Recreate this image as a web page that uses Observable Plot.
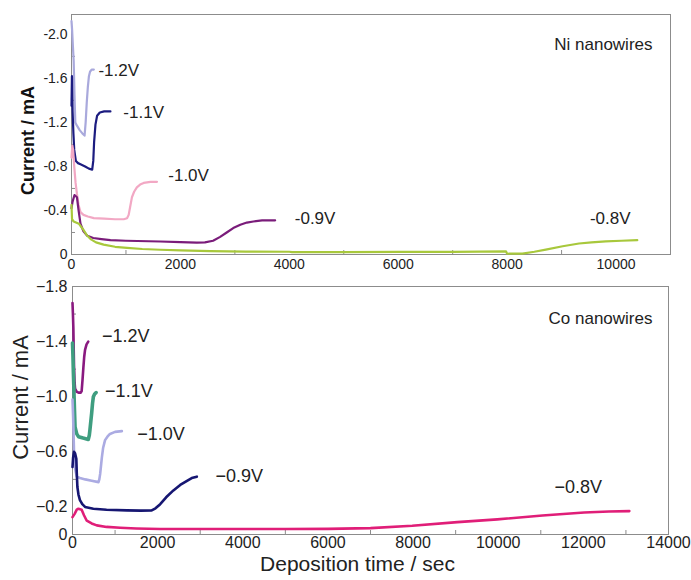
<!DOCTYPE html>
<html><head><meta charset="utf-8">
<script src="https://cdn.jsdelivr.net/npm/d3@7"></script>
<script src="https://cdn.jsdelivr.net/npm/@observablehq/plot@0.6"></script>
<style>body{margin:0;background:#fff}#chart svg{display:block}</style>
</head><body><div id="chart"></div>
<script>
// ---- Ni nanowires: [time (s), current (mA)] ----
const ni12 = [[0,-2.12],[10,-2.05],[25,-1.90],[40,-1.76],[55,-1.45],[70,-1.20],[100,-1.17],[150,-1.13],[200,-1.10],[240,-1.08],[260,-1.20],[280,-1.38],[300,-1.52],[320,-1.62],[340,-1.66],[370,-1.68],[410,-1.68]];
const ni11 = [[0,-1.35],[8,-1.62],[20,-1.30],[35,-1.10],[50,-0.95],[80,-0.85],[120,-0.83],[165,-0.82],[250,-0.80],[320,-0.78],[380,-0.77],[400,-0.85],[415,-1.02],[440,-1.18],[470,-1.26],[520,-1.29],[600,-1.30],[715,-1.30]];
const ni10 = [[0,-0.88],[15,-0.99],[30,-0.95],[50,-0.80],[75,-0.65],[100,-0.55],[130,-0.45],[165,-0.385],[220,-0.36],[300,-0.345],[410,-0.33],[600,-0.325],[800,-0.32],[960,-0.32],[1020,-0.33],[1050,-0.36],[1080,-0.44],[1110,-0.52],[1150,-0.57],[1200,-0.61],[1260,-0.635],[1325,-0.65],[1450,-0.66],[1570,-0.66]];
const ni09 = [[0,-0.42],[20,-0.48],[55,-0.54],[100,-0.52],[130,-0.40],[165,-0.28],[220,-0.21],[290,-0.17],[400,-0.15],[550,-0.14],[715,-0.13],[1000,-0.125],[1630,-0.118],[2000,-0.112],[2300,-0.108],[2450,-0.11],[2600,-0.125],[2730,-0.16],[2850,-0.20],[2970,-0.24],[3100,-0.27],[3220,-0.29],[3340,-0.30],[3500,-0.31],[3740,-0.31]];
const ni08 = [[0,-0.45],[10,-0.32],[40,-0.30],[135,-0.28],[180,-0.25],[225,-0.22],[290,-0.17],[350,-0.14],[450,-0.11],[590,-0.09],[800,-0.07],[1020,-0.06],[1300,-0.05],[1630,-0.043],[2000,-0.037],[2550,-0.03],[3200,-0.026],[4000,-0.025],[4050,-0.021],[5000,-0.022],[6000,-0.023],[7000,-0.024],[7980,-0.028],[8000,-0.007],[8280,-0.008],[8500,-0.025],[8710,-0.045],[9020,-0.075],[9320,-0.10],[9550,-0.11],[9810,-0.12],[10100,-0.125],[10390,-0.13]];
const niSeries = [ni12, ni11, ni10, ni09, ni08];
const niColors = ["#a9a9dc", "#1c1c80", "#f2a8c4", "#7a1c7a", "#a8c83c"];
const niLabels = ["-1.2V", "-1.1V", "-1.0V", "-0.9V", "-0.8V"];
const niLabelAt = [[495,-1.67],[952,-1.29],[1777,-0.72],[4100,-0.33],[9520,-0.33]];
const niYTicks = [-2.0, -1.6, -1.2, -0.8, -0.4, 0];
const niYMinor = [-1.8, -1.4, -1.0, -0.6, -0.2];
const niXTicks = [0, 2000, 4000, 6000, 8000, 10000];
const niXMinor = [1000, 3000, 5000, 7000, 9000];

// ---- Co nanowires ----
const co12 = [[0,-1.68],[10,-1.60],[20,-1.50],[35,-1.23],[50,-1.10],[60,-1.06],[100,-1.035],[140,-1.03],[190,-1.03],[215,-1.04],[235,-1.12],[255,-1.21],[275,-1.29],[295,-1.34],[330,-1.38],[370,-1.40]];
const co11 = [[0,-1.39],[10,-1.30],[20,-1.18],[30,-1.08],[45,-0.92],[60,-0.78],[100,-0.73],[140,-0.71],[250,-0.70],[370,-0.69],[395,-0.72],[410,-0.76],[430,-0.82],[450,-0.88],[470,-0.95],[490,-1.00],[520,-1.02],[555,-1.03]];
const co10 = [[0,-0.98],[15,-0.85],[35,-0.61],[60,-0.48],[100,-0.42],[175,-0.41],[300,-0.40],[450,-0.39],[610,-0.38],[630,-0.40],[650,-0.44],[670,-0.50],[690,-0.56],[720,-0.63],[765,-0.685],[820,-0.71],[880,-0.73],[1000,-0.745],[1160,-0.75]];
const co09 = [[0,-0.49],[15,-0.56],[35,-0.60],[60,-0.59],[90,-0.55],[100,-0.45],[115,-0.345],[140,-0.29],[175,-0.25],[230,-0.22],[295,-0.20],[490,-0.187],[800,-0.18],[1275,-0.175],[1600,-0.173],[1860,-0.175],[1950,-0.19],[2060,-0.22],[2200,-0.27],[2370,-0.32],[2530,-0.36],[2690,-0.39],[2800,-0.41],[2920,-0.42]];
const co08 = [[0,-0.126],[50,-0.15],[100,-0.18],[140,-0.187],[215,-0.18],[270,-0.14],[335,-0.10],[450,-0.08],[570,-0.066],[800,-0.055],[1120,-0.049],[1500,-0.044],[2060,-0.04],[3000,-0.04],[4000,-0.04],[5000,-0.04],[6000,-0.041],[7000,-0.046],[7980,-0.063],[9040,-0.09],[9980,-0.11],[11040,-0.138],[12020,-0.16],[12600,-0.167],[13080,-0.17]];
const coSeries = [co12, co11, co10, co09, co08];
const coColors = ["#8a1a80", "#3f9e80", "#ababe2", "#161672", "#e01e78"];
const coWidths = [2.6, 3.6, 2.6, 2.6, 2.6];
const coLabels = ["\u22121.2V", "\u22121.1V", "\u22121.0V", "\u22120.9V", "\u22120.8V"];
const coLabelAt = [[695,-1.436],[766,-1.04],[1520,-0.73],[3358,-0.42],[11324,-0.34]];
const coYTicks = [-1.8, -1.4, -1.0, -0.6, -0.2, 0];
const coYMinor = [-1.6, -1.2, -0.8, -0.4];
const coXTicks = [0, 2000, 4000, 6000, 8000, 10000, 12000, 14000];
const coXMinor = [1000, 3000, 5000, 7000, 9000, 11000, 13000];

const font = "'Liberation Sans', Arial, sans-serif";
const frameColor = "#8c8c8c";

const topPlot = Plot.plot({
  width: 691, height: 276,
  marginLeft: 71, marginRight: 21, marginTop: 14, marginBottom: 22,
  x: {domain: [0, 11000], label: null},
  y: {domain: [0, -2.18], label: null},
  style: {fontFamily: font, color: "#222", background: "white"},
  marks: [
    Plot.frame({stroke: frameColor}),
    Plot.axisY({ticks: niYTicks, tickSize: 0, tickPadding: 4, fontSize: 14, tickFormat: d => d === 0 ? "0" : d.toFixed(1)}),
    Plot.axisY({ticks: niYMinor, tickSize: -4, stroke: frameColor, tickFormat: () => ""}),
    Plot.axisX({ticks: niXTicks, tickSize: 0, tickPadding: 5, fontSize: 14, tickFormat: d => String(d)}),
    Plot.axisX({ticks: niXMinor, tickSize: -4, stroke: frameColor, tickFormat: () => ""}),
    ...niSeries.map((s, i) => Plot.line(s, {x: d => d[0], y: d => d[1], stroke: niColors[i], strokeWidth: 2.2})),
    Plot.text(niLabels, {x: (d, i) => niLabelAt[i][0], y: (d, i) => niLabelAt[i][1], text: d => d, textAnchor: "start", fontSize: 17, fill: "#222"}),
    Plot.text(["Ni nanowires"], {frameAnchor: "top-right", dx: -18, dy: 23, textAnchor: "end", fontSize: 17, fill: "#222"}),
    Plot.text(["Current / mA"], {frameAnchor: "left", textAnchor: "middle", rotate: -90, dx: -43, dy: 6, fontSize: 18, fontWeight: "bold", fill: "#111"})
  ]
});

const botPlot = Plot.plot({
  width: 691, height: 304,
  marginLeft: 72, marginRight: 23, marginTop: 10, marginBottom: 46,
  x: {domain: [0, 14000], label: null},
  y: {domain: [0, -1.8], label: null},
  style: {fontFamily: font, color: "#222", background: "white"},
  marks: [
    Plot.frame({stroke: frameColor}),
    Plot.axisY({ticks: coYTicks, tickSize: 0, tickPadding: 5, fontSize: 16, tickFormat: d => d === 0 ? "0" : d.toFixed(1).replace("-", "\u2212")}),
    Plot.axisY({ticks: coYMinor, tickSize: -4, stroke: frameColor, tickFormat: () => ""}),
    Plot.axisX({ticks: coXTicks, tickSize: 0, tickPadding: 2, fontSize: 16, tickFormat: d => String(d)}),
    Plot.axisX({ticks: coXMinor, tickSize: -4, stroke: frameColor, tickFormat: () => ""}),
    ...coSeries.map((s, i) => Plot.line(s, {x: d => d[0], y: d => d[1], stroke: coColors[i], strokeWidth: coWidths[i]})),
    Plot.text(coLabels, {x: (d, i) => coLabelAt[i][0], y: (d, i) => coLabelAt[i][1], text: d => d, textAnchor: "start", fontSize: 18, fill: "#222"}),
    Plot.text(["Co nanowires"], {frameAnchor: "top-right", dx: -16, dy: 25, textAnchor: "end", fontSize: 17, fill: "#222"}),
    Plot.text(["Current / mA"], {frameAnchor: "left", textAnchor: "middle", rotate: -90, dx: -52, dy: -13, fontSize: 22, fill: "#222"}),
    Plot.text(["Deposition time / sec"], {frameAnchor: "bottom", textAnchor: "middle", dx: -13, dy: 36, fontSize: 21, fill: "#222"})
  ]
});

const chart = document.getElementById("chart");
chart.appendChild(topPlot);
chart.appendChild(botPlot);
</script>
</body></html>
